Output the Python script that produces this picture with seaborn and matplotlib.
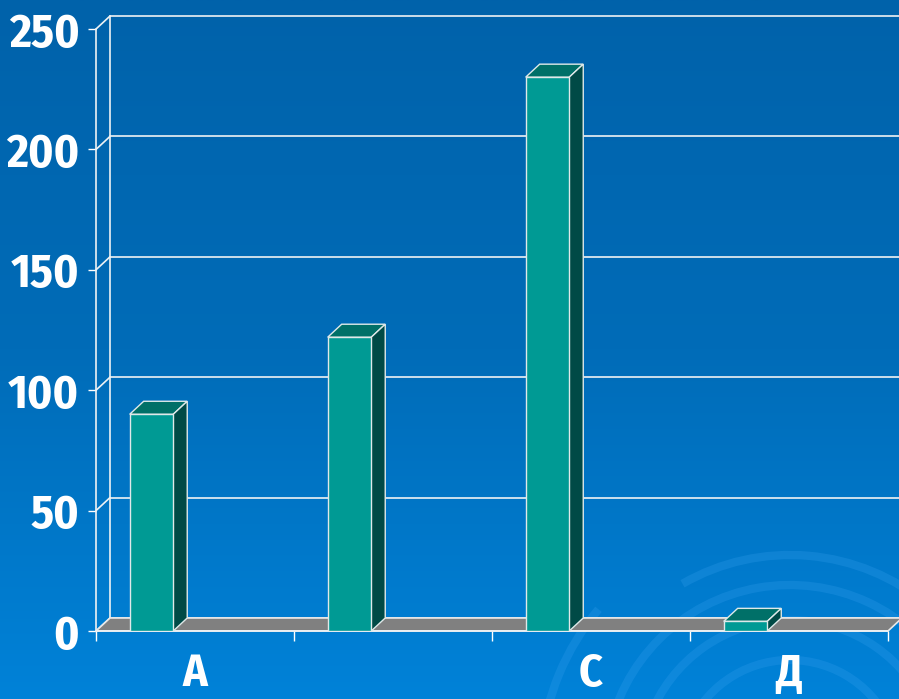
import numpy as np
import pandas as pd
import matplotlib
matplotlib.use('Agg')
import matplotlib.pyplot as plt
from matplotlib.patches import Polygon, Arc
from matplotlib.colors import LinearSegmentedColormap
import seaborn as sns

categories = ['А', '', 'С', 'Д']
values = [90, 122, 230, 4]
y_ticks = [0, 50, 100, 150, 200, 250]

sns.set_theme(style='white')
plt.rcParams['font.family'] = ['Fira Sans Condensed', 'DejaVu Sans']
plt.rcParams['font.weight'] = 'bold'

fig = plt.figure(figsize=(8.99, 6.99), dpi=100)

# background gradient + faint swirls (y axis inverted, so arcs open upward with 180-360)
bg = fig.add_axes([0, 0, 1, 1], zorder=0)
grad = np.linspace(0, 1, 256).reshape(-1, 1)
cmap_bg = LinearSegmentedColormap.from_list('bg', ['#0062aa', '#006cb8', '#0082d8'])
bg.imshow(grad, aspect='auto', cmap=cmap_bg, extent=[0, 899, 699, 0])
for r, t1, t2 in [(110, 195, 335), (150, 200, 340), (185, 190, 330), (215, 240, 310), (250, 185, 220)]:
    bg.add_patch(Arc((790, 770), 2 * r, 2 * r, theta1=t1, theta2=t2,
                     color='#3aa2f0', alpha=0.25, lw=6))
bg.set_xlim(0, 899)
bg.set_ylim(699, 0)
bg.axis('off')

ax = fig.add_axes([0.1068, 0.0973, 0.8810, 0.8612], zorder=1)
ax.patch.set_alpha(0)

df = pd.DataFrame({'cat': categories, 'val': values})
sns.barplot(data=df, x='cat', y='val', order=categories, width=0.22,
            color='#009a94', saturation=1, edgecolor='#dfe9e9', linewidth=1,
            ax=ax, zorder=3)

dx, dy, shift = 0.0707, 5.4, 0.22
line_kw = dict(color='#eef2f4', lw=1.2, clip_on=False)

# floor
ax.add_patch(Polygon([(-0.5, 0), (3.5, 0), (3.5 + dx, dy), (-0.5 + dx, dy)],
                     closed=True, facecolor='#808080', edgecolor='#e8e8e8',
                     lw=1.2, zorder=1.5, clip_on=False))

# back wall grid + left wall
for v in y_ticks:
    ax.plot([-0.5 + dx, 3.5 + dx + 0.05], [v + dy, v + dy], zorder=1.4, **line_kw)
    ax.plot([-0.5, -0.5 + dx], [v, v + dy], zorder=1.4, **line_kw)
ax.plot([-0.5 + dx] * 2, [dy, 250 + dy], zorder=1.4, **line_kw)
ax.plot([-0.5] * 2, [0, 250], zorder=1.4, **line_kw)
ax.plot([-0.5, 3.5], [0, 0], zorder=1.6, **line_kw)

# 3d bar tops and sides
for p in ax.patches[:len(values)]:
    p.set_x(p.get_x() - shift)
    x0, x1, h = p.get_x(), p.get_x() + p.get_width(), p.get_height()
    ax.add_patch(Polygon([(x0, h), (x1, h), (x1 + dx, h + dy), (x0 + dx, h + dy)],
                         closed=True, facecolor='#007068', edgecolor='#dfe9e9',
                         lw=1, zorder=2.9, clip_on=False))
    ax.add_patch(Polygon([(x1, 0), (x1 + dx, dy), (x1 + dx, h + dy), (x1, h)],
                         closed=True, facecolor='#004a46', edgecolor='#dfe9e9',
                         lw=1, zorder=2.9, clip_on=False))

ax.set_xlim(-0.5, 3.5)
ax.set_ylim(0, 250)
ax.set_yticks(y_ticks)
ax.set_xticks(range(len(categories)))
ax.set_xticklabels(categories)
ax.set_xticks([-0.5, 0.5, 1.5, 2.5, 3.5], minor=True)
ax.set_xlabel('')
ax.set_ylabel('')
for s in ax.spines.values():
    s.set_visible(False)

ax.tick_params(axis='y', left=True, length=6, width=1, color='white', pad=6,
               labelsize=34, labelcolor='white')
ax.tick_params(axis='x', which='major', bottom=True, length=0, pad=15,
               labelsize=33, labelcolor='white')
ax.tick_params(axis='x', which='minor', bottom=True, length=7, width=1,
               color='white')

plt.savefig('out.png', dpi=100)
